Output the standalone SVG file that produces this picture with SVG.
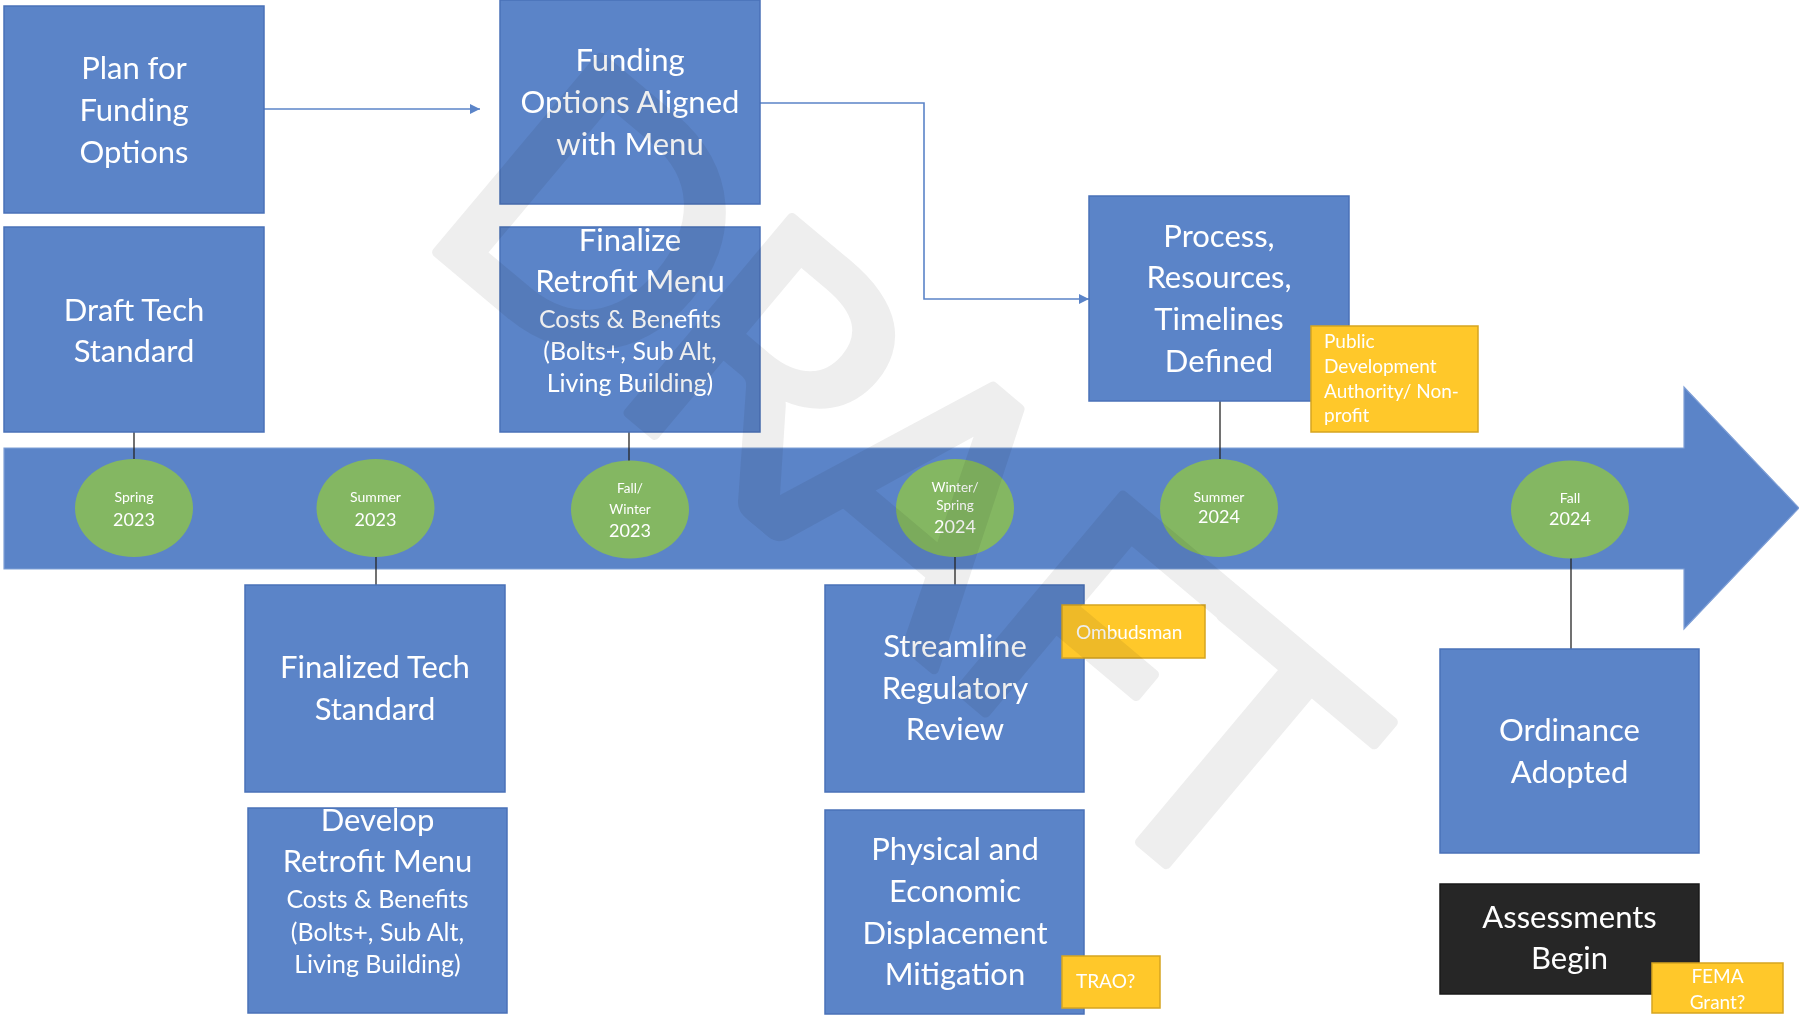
<svg xmlns="http://www.w3.org/2000/svg" width="1799" height="1023" viewBox="0 0 1799 1023">
<defs>
<marker id="ah" viewBox="0 0 10 10" refX="10" refY="5" markerWidth="10" markerHeight="10" markerUnits="userSpaceOnUse" orient="auto">
<path d="M0,0 L10,5 L0,10 z" fill="#5b84c8"/>
</marker>
<style>
.box{fill:#5b84c8;stroke:#4a71b8;stroke-width:1.5}
.dark{fill:#262626;stroke:#1a1a1a;stroke-width:1.5}
.note{fill:#ffc82a;stroke:#d6a520;stroke-width:1.5}
.circ{fill:#84b762}
.t{font-family:Lato,"Open Sans","Liberation Sans",sans-serif;fill:#ffffff;text-anchor:middle}
.big{font-size:31px}
.mid{font-size:25px}
.nt{font-family:Lato,"Open Sans","Liberation Sans",sans-serif;fill:#ffffff;font-size:19px}
.cs{font-size:14px}
.cx{font-size:13.5px}
.cy{font-size:18px}
.ln{stroke:#262626;stroke-width:1.3;fill:none}
.bl{stroke:#5b84c8;stroke-width:1.6;fill:none;marker-end:url(#ah)}
.wm{font-family:Lato,"Open Sans","Liberation Sans",sans-serif;font-size:355px;fill:#a8a8a8;stroke:#a8a8a8;stroke-width:10;stroke-linejoin:round;text-anchor:middle}
</style>
</defs>
<rect width="1799" height="1023" fill="#ffffff"/>

<g id="timeline">
<polygon points="4,448 1684,448 1684,387 1799,508 1684,629 1684,569 4,569" fill="#5b84c8" stroke="#7f9fd6" stroke-width="1.2"/>
</g>

<g id="connectors">
<line class="bl" x1="264" y1="109" x2="480" y2="109"/>
<polyline class="bl" points="760,103 924,103 924,299 1089,299"/>
<line class="ln" x1="134" y1="432" x2="134" y2="460"/>
<line class="ln" x1="629" y1="432" x2="629" y2="461"/>
<line class="ln" x1="376" y1="556" x2="376" y2="585"/>
<line class="ln" x1="955" y1="556" x2="955" y2="585"/>
<line class="ln" x1="1220" y1="401" x2="1220" y2="460"/>
<line class="ln" x1="1571" y1="558" x2="1571" y2="649"/>
</g>

<g id="m-spring-2023">
<ellipse class="circ" cx="134" cy="508" rx="59" ry="49"/>
<text class="t cs" x="134" y="502">Spring</text>
<text class="t cy" x="134" y="526">2023</text>
</g>
<g id="m-summer-2023">
<ellipse class="circ" cx="375.5" cy="508" rx="59" ry="49"/>
<text class="t cs" x="375.5" y="502">Summer</text>
<text class="t cy" x="375.5" y="526">2023</text>
</g>
<g id="m-fallwinter-2023">
<ellipse class="circ" cx="630" cy="509.5" rx="59" ry="49"/>
<text class="t cx" x="630" y="493">Fall/</text>
<text class="t cx" x="630" y="514">Winter</text>
<text class="t cy" x="630" y="537">2023</text>
</g>
<g id="m-winterspring-2024">
<ellipse class="circ" cx="955" cy="508" rx="59" ry="49"/>
<text class="t cx" x="955" y="492">Winter/</text>
<text class="t cx" x="955" y="510">Spring</text>
<text class="t cy" x="955" y="533">2024</text>
</g>
<g id="m-summer-2024">
<ellipse class="circ" cx="1219" cy="508" rx="59" ry="49"/>
<text class="t cs" x="1219" y="502">Summer</text>
<text class="t cy" x="1219" y="523">2024</text>
</g>
<g id="m-fall-2024">
<ellipse class="circ" cx="1570" cy="509.5" rx="59" ry="49"/>
<text class="t cs" x="1570" y="503">Fall</text>
<text class="t cy" x="1570" y="525">2024</text>
</g>

<g id="n-plan-funding">
<rect class="box" x="4" y="6" width="260" height="207"/>
<text class="t big" x="134" y="79">Plan for</text>
<text class="t big" x="134" y="121">Funding</text>
<text class="t big" x="134" y="163">Options</text>
</g>
<g id="n-funding-aligned">
<rect class="box" x="500" y="0" width="260" height="204"/>
<text class="t big" x="630" y="71">Funding</text>
<text class="t big" x="630" y="113">Options Aligned</text>
<text class="t big" x="630" y="155">with Menu</text>
</g>
<g id="n-draft-tech">
<rect class="box" x="4" y="227" width="260" height="205"/>
<text class="t big" x="134" y="321">Draft Tech</text>
<text class="t big" x="134" y="362">Standard</text>
</g>
<g id="n-finalize-menu">
<rect class="box" x="500" y="227" width="260" height="205"/>
<text class="t big" x="630" y="251">Finalize</text>
<text class="t big" x="630" y="292">Retrofit Menu</text>
<text class="t mid" x="630" y="328">Costs &amp; Benefits</text>
<text class="t mid" x="630" y="360">(Bolts+, Sub Alt,</text>
<text class="t mid" x="630" y="392">Living Building)</text>
</g>
<g id="n-process">
<rect class="box" x="1089" y="196" width="260" height="205"/>
<text class="t big" x="1219" y="247">Process,</text>
<text class="t big" x="1219" y="288">Resources,</text>
<text class="t big" x="1219" y="330">Timelines</text>
<text class="t big" x="1219" y="372">Defined</text>
</g>
<g id="n-pda">
<rect class="note" x="1311" y="326" width="167" height="106"/>
<text class="nt" x="1324" y="348">Public</text>
<text class="nt" x="1324" y="373">Development</text>
<text class="nt" x="1324" y="398">Authority/ Non-</text>
<text class="nt" x="1324" y="422">profit</text>
</g>
<g id="n-finalized-tech">
<rect class="box" x="245" y="585" width="260" height="207"/>
<text class="t big" x="375" y="678">Finalized Tech</text>
<text class="t big" x="375" y="720">Standard</text>
</g>
<g id="n-develop-menu">
<rect class="box" x="248" y="808" width="259" height="205"/>
<text class="t big" x="377.5" y="831">Develop</text>
<text class="t big" x="377.5" y="872">Retrofit Menu</text>
<text class="t mid" x="377.5" y="908">Costs &amp; Benefits</text>
<text class="t mid" x="377.5" y="941">(Bolts+, Sub Alt,</text>
<text class="t mid" x="377.5" y="973">Living Building)</text>
</g>
<g id="n-streamline">
<rect class="box" x="825" y="585" width="259" height="207"/>
<text class="t big" x="955" y="657">Streamline</text>
<text class="t big" x="955" y="699">Regulatory</text>
<text class="t big" x="955" y="740">Review</text>
</g>
<g id="n-ombudsman">
<rect class="note" x="1062" y="605" width="143" height="53"/>
<text class="nt" x="1076" y="639">Ombudsman</text>
</g>
<g id="n-displacement">
<rect class="box" x="825" y="810" width="259" height="204"/>
<text class="t big" x="955" y="860">Physical and</text>
<text class="t big" x="955" y="902">Economic</text>
<text class="t big" x="955" y="944">Displacement</text>
<text class="t big" x="955" y="985">Mitigation</text>
</g>
<g id="n-trao">
<rect class="note" x="1062" y="956" width="98" height="52"/>
<text class="nt" x="1076" y="988">TRAO?</text>
</g>
<g id="n-ordinance">
<rect class="box" x="1440" y="649" width="259" height="204"/>
<text class="t big" x="1569.5" y="741">Ordinance</text>
<text class="t big" x="1569.5" y="783">Adopted</text>
</g>
<g id="n-assessments">
<rect class="dark" x="1440" y="884" width="259" height="110"/>
<text class="t big" x="1569.5" y="928">Assessments</text>
<text class="t big" x="1569.5" y="969">Begin</text>
</g>
<g id="n-fema">
<rect class="note" x="1652" y="963" width="131" height="50"/>
<text class="nt" x="1717.5" y="983" text-anchor="middle">FEMA</text>
<text class="nt" x="1717.5" y="1009" text-anchor="middle">Grant?</text>
</g>

<g id="watermark" transform="translate(1153,853) rotate(40)" style="mix-blend-mode:multiply" opacity="0.2">
<text class="wm" x="-832" y="0">D</text>
<text class="wm" x="-606" y="0">R</text>
<text class="wm" x="-405" y="0">A</text>
<text class="wm" x="-185" y="0">F</text>
<text class="wm" x="0" y="0">T</text>
</g>
</svg>
